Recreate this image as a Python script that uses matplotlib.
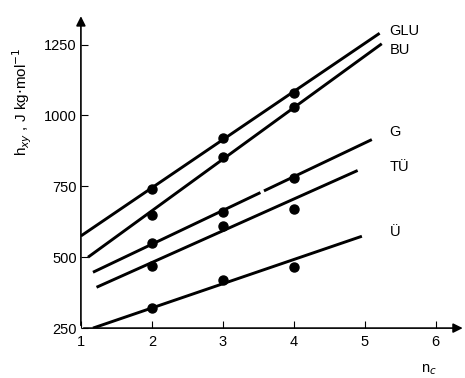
import numpy as np
import matplotlib
matplotlib.use("Agg")
import matplotlib.pyplot as plt

plt.rcParams['font.family'] = ['Liberation Sans', 'DejaVu Sans']

# measured points (n_c, h_xy)
n_pts = [2, 3, 4]
pts_GLU = [740, 920, 1080]
pts_BU = [650, 855, 1030]
pts_G = [550, 660, 780]
pts_TU = [470, 610, 670]
pts_U = [320, 420, 465]

# fitted lines: (x_start, y_start, x_end, y_end)
line_GLU = (1.0, 575, 5.21, 1290)
line_BU = (1.1, 500, 5.24, 1253)
line_G = (1.17, 447, 5.1, 915)
line_TU = (1.22, 394, 4.9, 806)
line_U = (1.17, 250, 4.96, 574)

labels = ['GLU', 'BU', 'G', 'TÜ', 'Ü']
label_pos = [(5.35, 1298), (5.35, 1232), (5.35, 940), (5.35, 820), (5.35, 590)]

xticks = [1, 2, 3, 4, 5, 6]
yticks = [250, 500, 750, 1000, 1250]

fig = plt.figure(figsize=(4.65, 3.78), dpi=100)
ax = fig.add_axes([0.174, 0.132, 0.824, 0.825])
ax.set_xlim(1, 6.4)
ax.set_ylim(250, 1350)
for s in ax.spines.values():
    s.set_visible(False)

lw = 2.1
for line, pts in [(line_GLU, pts_GLU), (line_BU, pts_BU), (line_TU, pts_TU), (line_U, pts_U)]:
    ax.plot([line[0], line[2]], [line[1], line[3]], color='black', lw=lw, solid_capstyle='butt')
    ax.plot(n_pts, pts, 'o', color='black', ms=6.5)

# G line has a small break near n_c = 3.55
x0, y0, x1, y1 = line_G
gap = [3.53, 3.58]
for a, b in [(x0, gap[0]), (gap[1], x1)]:
    ya = y0 + (y1 - y0) * (a - x0) / (x1 - x0)
    yb = y0 + (y1 - y0) * (b - x0) / (x1 - x0)
    ax.plot([a, b], [ya, yb], color='black', lw=lw, solid_capstyle='butt')
ax.plot(n_pts, pts_G, 'o', color='black', ms=6.5)

for lab, (x, y) in zip(labels, label_pos):
    ax.text(x, y, lab, fontsize=10.5, va='center', ha='left')

# axes with arrows
ax.annotate('', xy=(6.42, 250), xytext=(1, 250),
            arrowprops=dict(arrowstyle='-|>', color='black', lw=1.2, mutation_scale=14),
            annotation_clip=False)
ax.annotate('', xy=(1, 1360), xytext=(1, 250),
            arrowprops=dict(arrowstyle='-|>', color='black', lw=1.2, mutation_scale=14),
            annotation_clip=False)

ax.set_xticks(xticks)
ax.set_yticks(yticks)
ax.tick_params(direction='in', length=5, width=0.8, labelsize=10.5, pad=3)
ax.tick_params(axis='x', pad=5)

fig.text(22 / 465, 1 - 102 / 378, r'h$_{xy}$ , J kg$\cdot$mol$^{-1}$', rotation=90,
         ha='center', va='center', fontsize=11)
ax.text(5.8, 102, r'n$_c$', fontsize=10.5, ha='left', va='center', clip_on=False)

fig.savefig('out.png', dpi=100)
